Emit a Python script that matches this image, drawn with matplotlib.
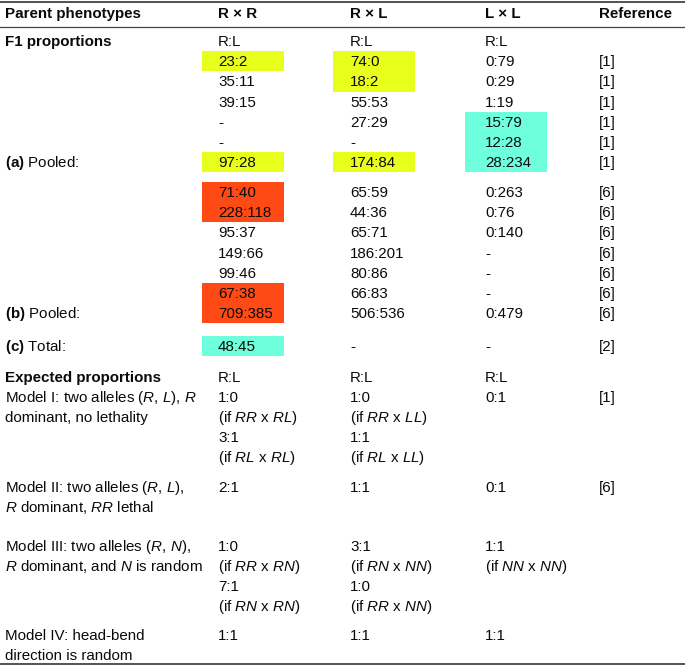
import matplotlib.pyplot as plt
from matplotlib.patches import Rectangle

plt.rcParams['font.family'] = ['Liberation Sans', 'DejaVu Sans']
plt.rcParams['mathtext.fontset'] = 'custom'
plt.rcParams['mathtext.rm'] = 'Liberation Sans'
plt.rcParams['mathtext.it'] = 'Liberation Sans:italic'
plt.rcParams['mathtext.bf'] = 'Liberation Sans:bold'

# ---- table content ----
headers = ["Parent phenotypes", "R × R", "R × L", "L × L", "Reference"]

# F1 proportions, first block (ref [1])
f1_rr = ["23:2", "35:11", "39:15", "-", "-", "97:28"]
f1_rl = ["74:0", "18:2", "55:53", "27:29", "-", "174:84"]
f1_ll = ["0:79", "0:29", "1:19", "15:79", "12:28", "28:234"]
f1_ref = ["[1]", "[1]", "[1]", "[1]", "[1]", "[1]"]

# second block (ref [6])
f2_rr = ["71:40", "228:118", "95:37", "149:66", "99:46", "67:38", "709:385"]
f2_rl = ["65:59", "44:36", "65:71", "186:201", "80:86", "66:83", "506:536"]
f2_ll = ["0:263", "0:76", "0:140", "-", "-", "-", "0:479"]
f2_ref = ["[6]", "[6]", "[6]", "[6]", "[6]", "[6]", "[6]"]

total_row = ["48:45", "-", "-", "[2]"]

models = [
    ["Model I: two alleles ($R$, $L$), $R$", "dominant, no lethality"],
    ["Model II: two alleles ($R$, $L$),", "$R$ dominant, $RR$ lethal"],
    ["Model III: two alleles ($R$, $N$),", "$R$ dominant, and $N$ is random"],
    ["Model IV: head-bend", "direction is random"],
]
exp_rr = [["1:0", "(if $RR$ x $RL$)", "3:1", "(if $RL$ x $RL$)"],
          ["2:1"],
          ["1:0", "(if $RR$ x $RN$)", "7:1", "(if $RN$ x $RN$)"],
          ["1:1"]]
exp_rl = [["1:0", "(if $RR$ x $LL$)", "1:1", "(if $RL$ x $LL$)"],
          ["1:1"],
          ["3:1", "(if $RN$ x $NN$)", "1:0", "(if $RR$ x $NN$)"],
          ["1:1"]]
exp_ll = [["0:1"], ["0:1"], ["1:1", "(if $NN$ x $NN$)"], ["1:1"]]
exp_ref = ["[1]", "[6]", "", ""]

# highlighted cells: (block, column, first row, number of rows, colour)
yellow = "#e8ff1c"
cyan = "#6effdc"
orange = "#ff4a16"
highlights = [
    ("f1", 1, 0, 1, yellow), ("f1", 1, 5, 1, yellow),
    ("f1", 2, 0, 2, yellow), ("f1", 2, 5, 1, yellow),
    ("f1", 3, 3, 3, cyan),
    ("f2", 1, 0, 2, orange), ("f2", 1, 5, 2, orange),
    ("total", 1, 0, 1, cyan),
]

# ---- layout ----
fig = plt.figure(figsize=(6.85, 6.65), dpi=100)
ax = fig.add_axes([0, 0, 1, 1])
ax.set_xlim(0, 685)
ax.set_ylim(665, 0)
ax.axis('off')

col_x = [5, 218, 350, 485, 599]
box_left = [0, 202, 333, 465, 0]
fs = 10.9
pitch = 20.2
base_off = 5  # baseline below visual centre


def put(x, yc, s, bold=False):
    ax.text(x, yc + base_off, s, fontsize=fs, va='baseline', ha='left',
            fontweight='bold' if bold else 'normal', color='#0a0a0a')


def box(col, yc, n, color):
    ax.add_patch(Rectangle((box_left[col], yc - 10), 82, pitch * n,
                           facecolor=color, edgecolor='none', zorder=0))


# rules
ax.plot([0, 685], [2, 2], color='#444444', lw=1.3)
ax.plot([0, 685], [27, 27], color='#444444', lw=0.9)
ax.plot([0, 685], [663.5, 663.5], color='#444444', lw=1.3)

y_head = 13
for x, h in zip(col_x, headers):
    put(x, y_head, h, bold=True)

y_f1 = 41
put(col_x[0], y_f1, "F1 proportions", bold=True)
for c in (1, 2, 3):
    put(col_x[c], y_f1, "R:L")

starts = {"f1": y_f1 + pitch, "f2": 192, "total": 346}

for kind, c, r, n, color in highlights:
    box(c, starts[kind] + r * pitch, n, color)

for i, vals in enumerate(zip(f1_rr, f1_rl, f1_ll, f1_ref)):
    yc = starts["f1"] + i * pitch
    for c, v in enumerate(vals, start=1):
        put(col_x[c], yc, v)
put(col_x[0], starts["f1"] + 5 * pitch, r"$\mathbf{(a)}$ Pooled:")

for i, vals in enumerate(zip(f2_rr, f2_rl, f2_ll, f2_ref)):
    yc = starts["f2"] + i * pitch
    for c, v in enumerate(vals, start=1):
        put(col_x[c], yc, v)
put(col_x[0], starts["f2"] + 6 * pitch, r"$\mathbf{(b)}$ Pooled:")

put(col_x[0], starts["total"], r"$\mathbf{(c)}$ Total:")
for c, v in enumerate(total_row, start=1):
    put(col_x[c], starts["total"], v)

y_exp = 377
put(col_x[0], y_exp, "Expected proportions", bold=True)
for c in (1, 2, 3):
    put(col_x[c], y_exp, "R:L")

model_y = [397, 487, 546, 635]
line_h = 20
for m, y0 in enumerate(model_y):
    for cells, x in ((models[m], col_x[0]), (exp_rr[m], col_x[1]),
                     (exp_rl[m], col_x[2]), (exp_ll[m], col_x[3])):
        for k, s in enumerate(cells):
            put(x, y0 + k * line_h, s)
    put(col_x[4], y0, exp_ref[m])

fig.savefig("out.png", dpi=100)
